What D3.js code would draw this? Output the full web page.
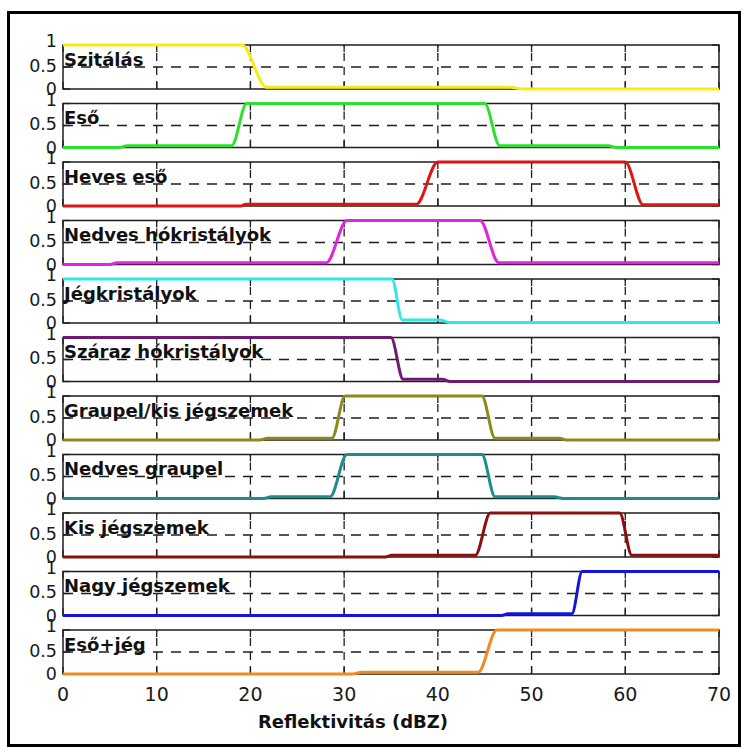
<!DOCTYPE html>
<html>
<head>
<meta charset="utf-8">
<script src="https://cdn.jsdelivr.net/npm/d3@7"></script>
<style>
  html, body { margin: 0; padding: 0; background: #fff; }
  svg { display: block; }
</style>
</head>
<body>
<svg id="chart" width="744" height="749"></svg>
<script>
// Hydrometeor classes (panel titles, top to bottom)
const categories = [
  "Szitálás", "Eső", "Heves eső", "Nedves hókristályok", "Jégkristályok",
  "Száraz hókristályok", "Graupel/kis jégszemek", "Nedves graupel",
  "Kis jégszemek", "Nagy jégszemek", "Eső+jég"
];

// Membership curves: [reflectivity dBZ, membership] breakpoints
const szitalas      = [[0,1],[19.1,1],[21.7,0.04],[47.7,0.04],[49.1,0],[70,0]];
const eso           = [[0,0],[6.0,0],[6.8,0.04],[18.0,0.04],[19.6,1],[45.0,1],[46.6,0.04],[58.2,0.04],[59.1,0],[70,0]];
const hevesEso      = [[0,0],[19.0,0],[19.5,0.04],[37.7,0.04],[40.0,1],[60.0,1],[61.9,0.03],[70,0.03]];
const nedvesHokr    = [[0,0],[5.0,0],[5.8,0.04],[28.1,0.04],[30.3,1],[44.5,1],[46.5,0.04],[70,0.04]];
const jegkristalyok = [[0,1],[35.1,1],[36.2,0.07],[40.2,0.07],[41.2,0.01],[70,0.01]];
const szarazHokr    = [[0,1],[35.0,1],[36.3,0.05],[40.5,0.05],[41.3,0],[70,0]];
const graupelKis    = [[0,0],[21.0,0],[21.8,0.04],[28.7,0.04],[30.1,1],[44.7,1],[46.1,0.04],[53.0,0.04],[53.7,0],[70,0]];
const nedvesGraupel = [[0,0],[21.4,0],[22.2,0.04],[28.5,0.04],[30.3,1],[44.7,1],[46.1,0.04],[52.4,0.04],[53.4,0],[70,0]];
const kisJeg        = [[0,0],[34.4,0],[35.1,0.04],[44.0,0.04],[45.6,1],[59.4,1],[60.7,0.04],[70,0.04]];
const nagyJeg       = [[0,0],[46.8,0],[47.5,0.04],[54.3,0.04],[55.4,1],[70,1]];
const esoJeg        = [[0,0],[30.8,0],[31.9,0.04],[44.3,0.04],[46.3,1],[70,1]];

const seriesValues = [szitalas, eso, hevesEso, nedvesHokr, jegkristalyok, szarazHokr,
                      graupelKis, nedvesGraupel, kisJeg, nagyJeg, esoJeg];

// Axis ticks
const xTicks = [0, 10, 20, 30, 40, 50, 60, 70];
const yTicks = [0, 0.5, 1];
const yTickLabels = ["0", "0.5", "1"];
const xTitle = "Reflektivitás (dBZ)";

// Line colours per class
const lineColors = ["#f2ee1a", "#2ee02e", "#e01414", "#e024e0", "#2ee8e8", "#701a70",
                    "#8a8a1c", "#1f8c8c", "#8a1010", "#1414e0", "#f28a22"];

const svg = d3.select("#chart");

// Outer figure frame
svg.append("rect")
  .attr("x", 8.5).attr("y", 12.5)
  .attr("width", 731).attr("height", 733)
  .attr("fill", "#fff").attr("stroke", "#000").attr("stroke-width", 3);

const x = d3.scaleLinear().domain([0, 70]).range([63, 719]);
const panelTop0 = 45, panelStep = 58.5, panelH = 44;
const tickLen = 7;
const axisColor = "#1e1e1e";

const line = d3.line().curve(d3.curveMonotoneX);

categories.forEach((name, i) => {
  const top = panelTop0 + i * panelStep;
  const y = d3.scaleLinear().domain([0, 1]).range([top + panelH, top]);
  const g = svg.append("g");

  // dashed grid: verticals at inner x ticks, horizontal at 0.5
  g.selectAll("line.vgrid").data(xTicks.slice(1, -1)).join("line")
    .attr("x1", d => x(d)).attr("x2", d => x(d))
    .attr("y1", y(0)).attr("y2", y(1))
    .attr("stroke", axisColor).attr("stroke-width", 1.3)
    .attr("stroke-dasharray", "8,6");
  g.append("line")
    .attr("x1", x(0)).attr("x2", x(70))
    .attr("y1", y(0.5)).attr("y2", y(0.5))
    .attr("stroke", axisColor).attr("stroke-width", 1.3)
    .attr("stroke-dasharray", "10,8");

  // inward ticks on all four sides
  g.selectAll("line.xtb").data(xTicks).join("line")
    .attr("x1", d => x(d)).attr("x2", d => x(d))
    .attr("y1", y(0)).attr("y2", y(0) - tickLen)
    .attr("stroke", axisColor).attr("stroke-width", 1.3);
  g.selectAll("line.xtt").data(xTicks).join("line")
    .attr("x1", d => x(d)).attr("x2", d => x(d))
    .attr("y1", y(1)).attr("y2", y(1) + tickLen)
    .attr("stroke", axisColor).attr("stroke-width", 1.3);
  g.selectAll("line.ytl").data(yTicks).join("line")
    .attr("x1", x(0)).attr("x2", x(0) + tickLen)
    .attr("y1", d => y(d)).attr("y2", d => y(d))
    .attr("stroke", axisColor).attr("stroke-width", 1.3);
  g.selectAll("line.ytr").data(yTicks).join("line")
    .attr("x1", x(70)).attr("x2", x(70) - tickLen)
    .attr("y1", d => y(d)).attr("y2", d => y(d))
    .attr("stroke", axisColor).attr("stroke-width", 1.3);

  // axes box
  g.append("rect")
    .attr("x", x(0)).attr("y", y(1))
    .attr("width", x(70) - x(0)).attr("height", y(0) - y(1))
    .attr("fill", "none").attr("stroke", axisColor).attr("stroke-width", 1.5);

  // y tick labels
  const yOff = { 0: 0, 0.5: -1.5, 1: -4 };
  g.selectAll("text.ytick").data(yTicks).join("text")
    .attr("x", 57)
    .attr("y", d => y(d) + yOff[d])
    .attr("text-anchor", "end")
    .attr("dominant-baseline", "central")
    .attr("font-family", "DejaVu Sans")
    .attr("font-size", 17.5)
    .attr("fill", "#1a1a1a")
    .text((d, k) => yTickLabels[k]);

  // class label
  g.append("text")
    .attr("x", x(0) + 1)
    .attr("y", y(0.5) - 1.5)
    .attr("font-family", "DejaVu Sans")
    .attr("font-weight", "bold")
    .attr("font-size", 18)
    .attr("fill", "#111")
    .text(name);

  // membership curve
  g.append("path")
    .attr("d", line(seriesValues[i].map(p => [x(p[0]), y(p[1])])))
    .attr("fill", "none")
    .attr("stroke", lineColors[i])
    .attr("stroke-width", 3)
    .attr("stroke-linejoin", "round");
});

// bottom x tick labels
const lastBottom = panelTop0 + (categories.length - 1) * panelStep + panelH;
svg.selectAll("text.xtick").data(xTicks).join("text")
  .attr("x", d => x(d))
  .attr("y", lastBottom + 27)
  .attr("text-anchor", "middle")
  .attr("font-family", "DejaVu Sans")
  .attr("font-size", 19)
  .attr("fill", "#1a1a1a")
  .text(d => d);

// x axis title
svg.append("text")
  .attr("x", 353)
  .attr("y", 728)
  .attr("text-anchor", "middle")
  .attr("font-family", "DejaVu Sans")
  .attr("font-weight", "bold")
  .attr("font-size", 18)
  .attr("fill", "#111")
  .text(xTitle);
</script>
</body>
</html>
